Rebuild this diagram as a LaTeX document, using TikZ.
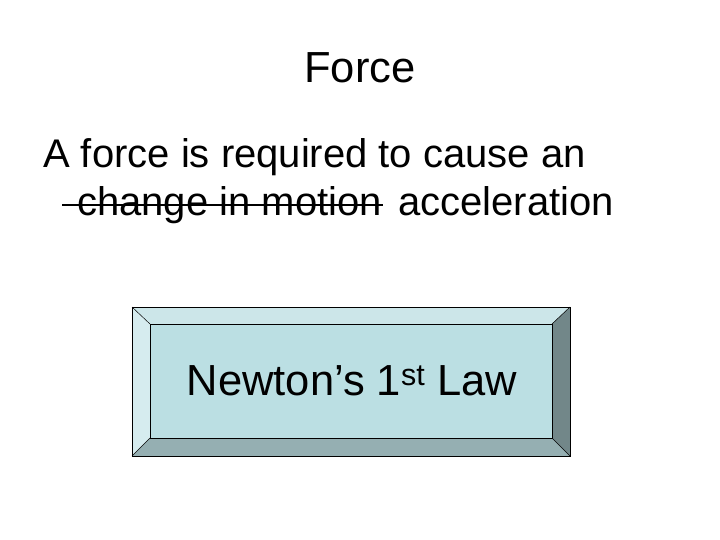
\documentclass[tikz,border=0pt]{standalone}
\usepackage{fontspec}
\setmainfont{Liberation Sans}
\begin{document}
\begin{tikzpicture}[x=1pt,y=-1pt,
  txt/.style={inner sep=0pt,font=\fontsize{40}{44}\selectfont},
  big/.style={inner sep=0pt,font=\fontsize{43.5}{48}\selectfont},
  bev/.style={draw=black,line width=0.8pt}]
\useasboundingbox (0,0) rectangle (720,540);
\definecolor{face}{HTML}{BBDFE3}
\definecolor{topb}{HTML}{CCE6E9}
\definecolor{leftb}{HTML}{D6ECEF}
\definecolor{rightb}{HTML}{728789}
\definecolor{botb}{HTML}{95AFB2}
\node[big,anchor=base] (title) at (360,83) {Force};
\node[txt,anchor=base west] (l1) at (43,168) {A force is required to cause an};
\node[txt,anchor=base west] (l2a) at (77,215) {change in motion};
\node[txt,anchor=base west] (l2b) at (398,215) {acceleration};
\draw[line width=2.5pt] (62,205) -- (383,205);
\coordinate (o1) at (132,307); \coordinate (o2) at (570,307);
\coordinate (o3) at (570,456); \coordinate (o4) at (132,456);
\coordinate (i1) at (150,324); \coordinate (i2) at (552,324);
\coordinate (i3) at (552,438); \coordinate (i4) at (150,438);
\fill[topb] (o1)--(o2)--(i2)--(i1)--cycle;
\fill[rightb] (o2)--(o3)--(i3)--(i2)--cycle;
\fill[botb] (o3)--(o4)--(i4)--(i3)--cycle;
\fill[leftb] (o4)--(o1)--(i1)--(i4)--cycle;
\draw[bev,fill=face] (i1) rectangle (i3);
\draw[bev] (o1) rectangle (o3);
\draw[line width=0.5pt] (o1)--(i1) (o2)--(i2) (o3)--(i3) (o4)--(i4);
\node[big,anchor=base] (law) at (352,395) {Newton’s 1\textsuperscript{st} Law};
\end{tikzpicture}
\end{document}
